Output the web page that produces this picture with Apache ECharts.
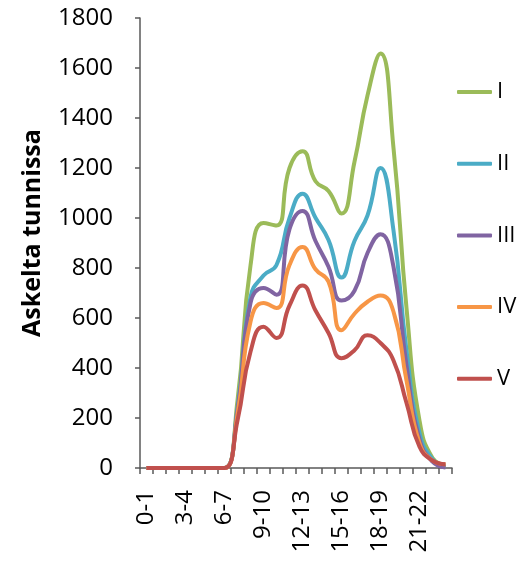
<!DOCTYPE html>
<html>
<head>
<meta charset="utf-8">
<script src="https://cdn.jsdelivr.net/npm/echarts@6/dist/echarts.min.js"></script>
<style>html,body{margin:0;padding:0;background:#fff;}#c{width:518px;height:562px;}</style>
</head>
<body>
<div id="c"></div>
<script>
const categories = ['0-1','1-2','2-3','3-4','4-5','5-6','6-7','7-8','8-9','9-10','10-11','11-12','12-13','13-14','14-15','15-16','16-17','17-18','18-19','19-20','20-21','21-22','22-23','23-24'];
const seriesNames = ['I','II','III','IV','V'];
const valuesI   = [0,0,0,0,0,0,0,270,810,980,970,1200,1267,1147,1108,1018,1225,1490,1658,1280,640,190,40,10];
const valuesII  = [0,0,0,0,0,0,0,240,683,770,812,1000,1097,1001,912,762,908,1010,1200,950,470,140,35,5];
const valuesIII = [0,0,0,0,0,0,0,230,660,720,693,955,1028,908,805,670,709,860,935,805,410,115,25,2];
const valuesIV  = [0,0,0,0,0,0,0,215,585,660,640,812,884,795,745,551,617,665,690,625,350,100,30,15];
const valuesV   = [0,0,0,0,0,0,0,190,465,565,520,650,730,630,540,439,471,531,500,430,260,85,30,15];
const yTicks = {min:0, max:1800, interval:200};
const yName = 'Askelta tunnissa';

const colors = ['#9BBB59','#4BACC6','#8064A2','#F79646','#C0504D'];
const allValues = [valuesI, valuesII, valuesIII, valuesIV, valuesV];
const font = '"Open Sans", sans-serif';

const chart = echarts.init(document.getElementById('c'), null, {renderer:'canvas'});
chart.setOption({
  animation:false,
  backgroundColor:'#fff',
  grid:{left:140, right:66, top:18, bottom:94, containLabel:false},
  legend:{
    orient:'vertical', left:452, top:75, itemGap:47.7,
    itemWidth:35, itemHeight:4, icon:'roundRect',
    textStyle:{fontFamily:font, fontSize:22, color:'#000', lineHeight:24},
    data:seriesNames
  },
  xAxis:{
    type:'category', data:categories, boundaryGap:true,
    axisLine:{show:true, lineStyle:{color:'#595959', width:1.5}},
    axisTick:{show:true, interval:0, length:6, alignWithLabel:false, lineStyle:{color:'#595959', width:1.5}},
    axisLabel:{interval:2, rotate:90, fontFamily:font, fontSize:24, color:'#000', margin:22},
    splitLine:{show:false}
  },
  yAxis:{
    type:'value', min:yTicks.min, max:yTicks.max, interval:yTicks.interval,
    axisLine:{show:true, lineStyle:{color:'#595959', width:1.5}},
    axisTick:{show:true, length:5, lineStyle:{color:'#595959', width:1.5}},
    axisLabel:{fontFamily:font, fontSize:24, color:'#000', margin:27, formatter:(v)=>String(v)},
    splitLine:{show:false}
  },
  graphic:[{
    type:'text', x:33, y:233, rotation:Math.PI/2,
    style:{text:yName, font:'bold 25px "Open Sans", sans-serif', fill:'#000', align:'center', verticalAlign:'middle'}
  }],
  series: seriesNames.map((n,i)=>({
    name:n, type:'line', data:allValues[i], smooth:0.5, showSymbol:false, symbol:'none',
    lineStyle:{color:colors[i], width:4}, itemStyle:{color:colors[i]}
  }))
});
</script>
</body>
</html>
